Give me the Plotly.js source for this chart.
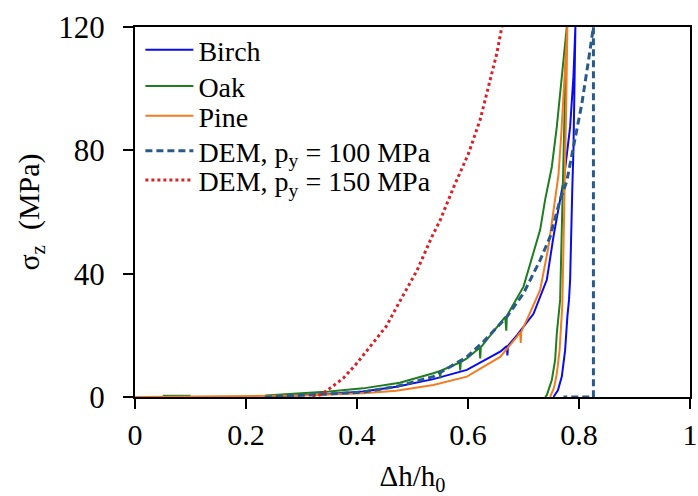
<!DOCTYPE html>
<html>
<head>
<meta charset="utf-8">
<script src="https://cdn.plot.ly/plotly-3.0.1.min.js"></script>
<style>html,body{margin:0;padding:0;background:#fff;}#chart{width:698px;height:496px;}</style>
</head>
<body>
<div id="chart"></div>
<script>
// Birch: loading then unloading
const birchX = [0.24,0.30,0.35,0.411,0.471,0.5375,0.598,0.658,0.670,0.671,0.672,0.688,0.718,0.742,0.754,0.766,0.773,0.784,0.790,0.7935,
                0.792,0.790,0.788,0.786,0.784,0.782,0.779,0.775,0.769,0.762,0.754];
const birchY = [0.1,0.6,1.0,1.8,3.3,5.8,8.8,14.7,16.5,13.5,16.6,20,27,38,52,64,71,87.6,104,120,
                100,80,68,50,38,31.5,26,15.2,6.6,2.2,0];
// Oak: short early segment, loading, unloading
const oakX = [0.05,0.10,null,0.235,0.30,0.35,0.411,0.45,0.477,0.5375,0.549,0.550,0.551,0.585,0.586,0.587,0.598,0.621,0.622,0.623,0.667,0.669,0.670,0.70,0.718,0.730,0.739,0.751,0.760,0.769,0.778,
              0.775,0.772,0.769,0.766,0.760,0.757,0.751,0.742,0.739];
const oakY = [0.4,0.4,null,0.5,1.2,1.8,2.8,3.8,4.6,7.7,8.4,6.0,8.5,11.2,8.6,11.3,12.5,16,12.5,16.1,26,21.5,26.3,35.8,46.6,54.2,64,74.6,87.6,104,120,
              100,80,55,31.5,20.6,12,5.5,0.6,0];
// Pine: loading then unloading
const pineX = [0,0.10,0.17,0.234,0.30,0.35,0.411,0.471,0.5375,0.598,0.658,0.688,0.694,0.695,0.696,0.706,0.730,0.745,0.754,0.763,0.768,0.772,0.779,
               0.777,0.775,0.772,0.770,0.765,0.760,0.755,0.748];
const pineY = [0,0.2,0.2,0.3,0.5,0.8,1.2,2.0,3.9,6.6,13,19.5,21,17.5,21.2,25,34.7,48.8,59.6,72,85,98,120,
               95,75,55,30,15.2,7.6,3,0];
// DEM, py = 100 MPa
const dem100X = [0.234,0.30,0.35,0.411,0.471,0.5375,0.598,0.628,0.670,0.700,0.730,0.748,0.766,0.778,0.790,0.805,0.817,0.826,0.826,0.772];
const dem100Y = [0,0.5,1.0,1.6,3.4,6.6,13,18,26,33.6,44.4,52,64,70,81,95,109,120,0,0];
// DEM, py = 150 MPa
const dem150X = [0.32,0.335,0.351,0.375,0.40,0.425,0.453,0.477,0.508,0.535,0.55,0.574,0.601,0.622,0.637,0.652,0.661];
const dem150Y = [0,0.8,2.8,6,11,16.5,23,31,41,52,57.4,68,79,90,100.6,111.5,120];

const names = ['Birch','Oak','Pine','DEM, p<sub>y</sub> = 100 MPa','DEM, p<sub>y</sub> = 150 MPa'];
const colors = ['#0A0AF0','#1E7D1E','#F07D22','#2A5A8C','#D8222A'];
const xTicks = [0,0.2,0.4,0.6,0.8,1];
const xTickText = ['0','0.2','0.4','0.6','0.8','1'];
const yTicks = [0,40,80,120];

const FONT = '"Liberation Serif", "Times New Roman", Times, serif';
const legendIds = ['legend','legend2','legend3','legend4','legend5'];
const legendY = [0.9375, 0.84, 0.759, 0.665, 0.586];

const traces = [
  {x: birchX, y: birchY, name: names[0], mode:'lines', line:{color:colors[0], width:2}},
  {x: oakX, y: oakY, name: names[1], mode:'lines', line:{color:colors[1], width:2}},
  {x: pineX, y: pineY, name: names[2], mode:'lines', line:{color:colors[2], width:2}},
  {x: dem100X, y: dem100Y, name: names[3], mode:'lines', line:{color:colors[3], width:3, dash:'7px,4px'}},
  {x: dem150X, y: dem150Y, name: names[4], mode:'lines', line:{color:colors[4], width:3, dash:'3px,3px'}}
];
traces.forEach((t, i) => { t.legend = legendIds[i]; });

const layout = {
  width: 698, height: 496,
  margin: {l:135, r:8, t:27, b:99},
  paper_bgcolor:'#fff', plot_bgcolor:'#fff',
  font: {family: FONT, size: 28, color:'#000'},
  showlegend: true,
  xaxis: {range:[0,1], tickvals:xTicks, ticktext:xTickText, showgrid:false, zeroline:false,
          showline:true, linecolor:'#000', linewidth:2, mirror:true,
          ticks:'outside', ticklen:10, tickwidth:2, tickcolor:'#000',
          tickfont:{family:FONT, size:30, color:'#000'},
          title:{text:'Δh/h<sub>0</sub>', font:{family:FONT, size:29, color:'#000'}, standoff:20}},
  yaxis: {range:[0,120], tickvals:yTicks, showgrid:false, zeroline:false,
          showline:true, linecolor:'#000', linewidth:2, mirror:true,
          ticks:'outside', ticklen:10, tickwidth:2, tickcolor:'#000', ticklabelstandoff:12,
          tickfont:{family:FONT, size:31, color:'#000'},
          title:{text:'σ<sub>z</sub>\u00A0\u00A0(MPa)', font:{family:FONT, size:30, color:'#000'}, standoff:10}}
};
legendIds.forEach((id, i) => {
  layout[id] = {x: 0.0097, y: legendY[i], xanchor:'left', yanchor:'middle', bgcolor:'rgba(0,0,0,0)',
                itemwidth: 48, font:{family:FONT, size:28, color:'#000'}};
});

Plotly.newPlot('chart', traces, layout, {displayModeBar:false, staticPlot:true});
</script>
</body>
</html>
